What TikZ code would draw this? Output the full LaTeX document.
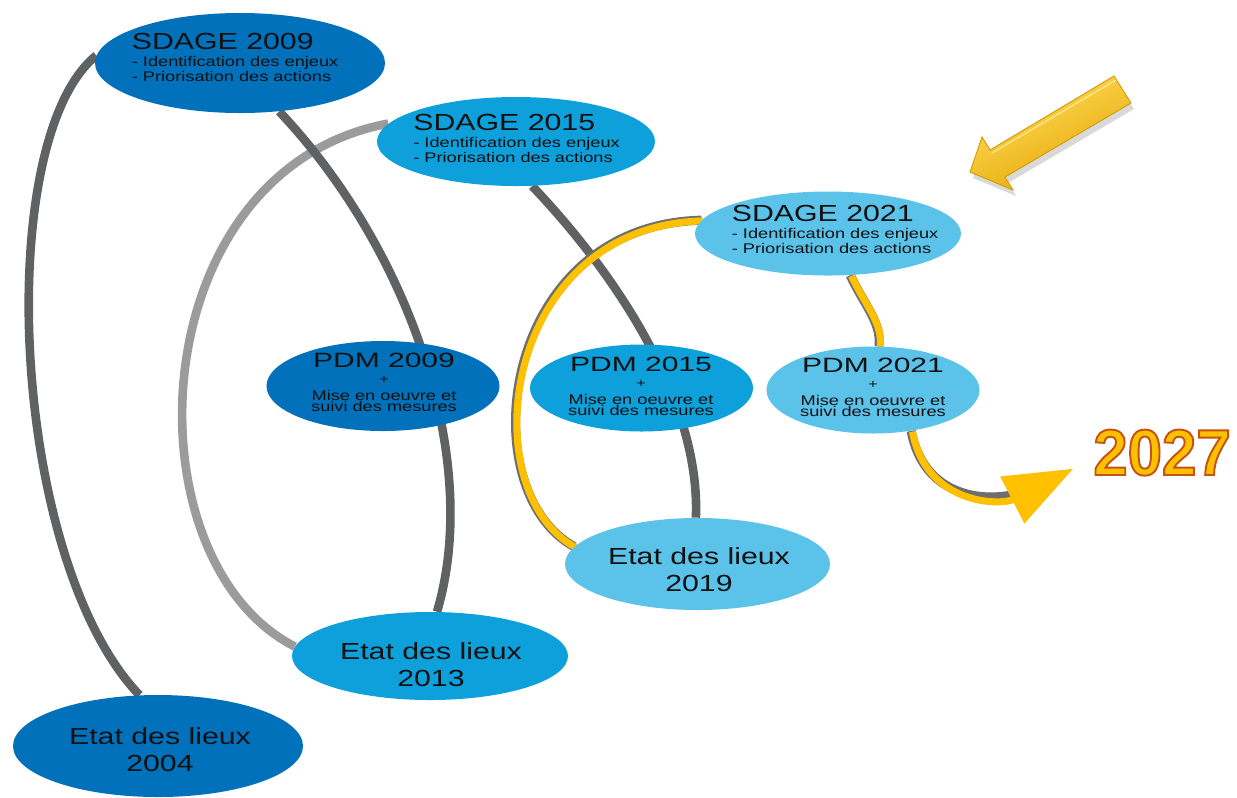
\documentclass[tikz,border=0pt]{standalone}
\usepackage{fontspec}
\setmainfont{Liberation Sans}
\newfontfamily\lab[FakeStretch=1.3]{Liberation Sans}
\newfontfamily\labw[FakeStretch=1.45]{Liberation Sans}
\newfontfamily\yearfont[FakeStretch=0.95]{Liberation Sans}
\usetikzlibrary{shapes.geometric,arrows.meta}
\pgfdeclarelayer{bg}
\pgfsetlayers{bg,main}
\definecolor{cA}{HTML}{0071BA}
\definecolor{cB}{HTML}{0EA0DA}
\definecolor{cC}{HTML}{5BC2EA}
\definecolor{gD}{HTML}{606163}
\definecolor{gL}{HTML}{9B9B9B}
\definecolor{yl}{HTML}{FFC000}
\definecolor{yshc}{HTML}{6E6E6E}
\definecolor{txt}{HTML}{111111}
\definecolor{arL}{HTML}{FFE060}
\definecolor{arD}{HTML}{E6A400}
\definecolor{arE}{HTML}{D39A00}
\lineskiplimit=-20pt
\begin{document}
\begin{tikzpicture}[x=0.2mm,y=-0.2mm,
  bub/.style={ellipse,inner sep=0pt,draw=none},
  dk/.style={draw=gD,line width=4.9pt},
  lt/.style={draw=gL,line width=4.9pt},
  yshadow/.style={draw=yshc,line width=5.2pt},
  ylw/.style={draw=yl,line width=4pt},
  sdt/.style={anchor=north west,align=left,inner sep=0pt,text=txt,
    font=\lab\fontsize{7.97}{8.54}\selectfont},
  pdt/.style={anchor=north,align=center,inner sep=0pt,text=txt,
    font=\lab\fontsize{7.97}{6.6}\selectfont},
  edt/.style={anchor=north,align=center,inner sep=0pt,text=txt,
    font=\lab\fontsize{13.26}{15.25}\selectfont}
]
\lineskiplimit=-20pt
\useasboundingbox (0,0) rectangle (1237,797);

% ellipses
\node[bub,fill=cA,minimum width=58mm,minimum height=20mm] (sd09) at (240,63) {};
\node[bub,fill=cB,minimum width=55.6mm,minimum height=17.8mm] (sd15) at (516,141.5) {};
\node[bub,fill=cC,minimum width=53.2mm,minimum height=16.8mm] (sd21) at (828,233.5) {};
\node[bub,fill=cA,minimum width=46.6mm,minimum height=18mm] (pd09) at (383,386) {};
\node[bub,fill=cB,minimum width=44.6mm,minimum height=17.4mm] (pd15) at (641.5,388) {};
\node[bub,fill=cC,minimum width=42.6mm,minimum height=17.4mm] (pd21) at (873,390) {};
\node[bub,fill=cA,minimum width=58mm,minimum height=20.4mm] (ed04) at (158,746) {};
\node[bub,fill=cB,minimum width=55.2mm,minimum height=17.6mm] (ed13) at (430,656) {};
\node[bub,fill=cC,minimum width=53mm,minimum height=18.4mm] (ed19) at (697.5,564) {};

% texts
\node[sdt] (sd09t) at (131.5,33) {{\fontsize{13.26}{8.54}\selectfont SDAGE 2009}\\[0.96pt]- Identification des enjeux\\- Priorisation des actions};
\node[sdt] (sd15t) at (413,114) {{\fontsize{13.26}{8.54}\selectfont SDAGE 2015}\\[0.96pt]- Identification des enjeux\\- Priorisation des actions};
\node[sdt] (sd21t) at (731.5,205) {{\fontsize{13.26}{8.54}\selectfont SDAGE 2021}\\[0.96pt]- Identification des enjeux\\- Priorisation des actions};

\node[pdt] (pd09t) at (384,353) {{\labw\fontsize{11.78}{6.6}\selectfont PDM 2009}\\[2.2pt]{\fontsize{7}{6.6}\selectfont +}\\[3pt]Mise en oeuvre et\\suivi des mesures};
\node[pdt] (pd15t) at (641,357) {{\labw\fontsize{11.78}{6.6}\selectfont PDM 2015}\\[2.2pt]{\fontsize{7}{6.6}\selectfont +}\\[3pt]Mise en oeuvre et\\suivi des mesures};
\node[pdt] (pd21t) at (873,358) {{\labw\fontsize{11.78}{6.6}\selectfont PDM 2021}\\[2.2pt]{\fontsize{7}{6.6}\selectfont +}\\[3pt]Mise en oeuvre et\\suivi des mesures};

\node[edt] (ed04t) at (160,727) {Etat des lieux\\2004};
\node[edt] (ed13t) at (431,642) {Etat des lieux\\2013};
\node[edt] (ed19t) at (699,547) {Etat des lieux\\2019};

\coordinate (t27) at (1072,468);

% connectors (behind)
\begin{pgfonlayer}{bg}
\fill[white] (0,0) rectangle (1237,797);
\draw[lt] (sd15.172) .. controls (140,170) and (125,560) .. (ed13.176);
\draw[dk] (ed04.110) .. controls (10,560) and (-8,140) .. (sd09.177);
\draw[dk] (sd09.-51) .. controls (410,250) and (482,460) .. (ed13.81);
\draw[dk] (sd15.-70) .. controls (640,300) and (700,420) .. (ed19.92);
% yellow paths with shadow
\draw[yshadow] (sd21.174) .. controls (500,225) and (470,490) .. (ed19.172);
\draw[ylw,transform canvas={shift={(0.7pt,-0.4pt)}}] (sd21.174) .. controls (500,225) and (470,490) .. (ed19.172);
\draw[yshadow] (sd21.-62) .. controls (866,308) and (881,322) .. (pd21.82);
\draw[ylw,transform canvas={shift={(0.7pt,-0.4pt)}}] (sd21.-62) .. controls (866,308) and (881,322) .. (pd21.82);
\end{pgfonlayer}
\draw[yshadow,shorten >=24pt] (pd21.-47) .. controls (925,505) and (1000,505) .. (t27);
\draw[ylw,transform canvas={shift={(0.7pt,-0.4pt)}},-{Triangle[length=39pt,width=29pt]}] (pd21.-47) .. controls (925,505) and (1000,505) .. (t27);

% big 3D arrow
\fill[black,opacity=0.15] (1117,82) -- (1134,109) -- (1008,183) -- (1016,196) -- (973,178) -- (985,143) -- (993,156) -- cycle;
\shade[top color=arL,bottom color=arD,shading angle=25,draw=arE,line width=0.5pt]
  (1114,76) -- (1131,103) -- (1004.9,177.1) -- (1013,190) -- (970,172) -- (982,137) -- (990.2,149.9) -- cycle;
\draw[arL!60!white,line width=0.8pt,opacity=0.8] (1116,80) -- (992,153);

% 2027
\node[anchor=base west,inner sep=0pt,text=yl,font=\yearfont\bfseries\fontsize{37}{40}\selectfont] (y27) at (1093,475)
  {\special{pdf:literal direct 2 Tr 1.1 w 0.77 0.33 0.07 RG}2027\special{pdf:literal direct 0 Tr}};
\end{tikzpicture}
\end{document}
